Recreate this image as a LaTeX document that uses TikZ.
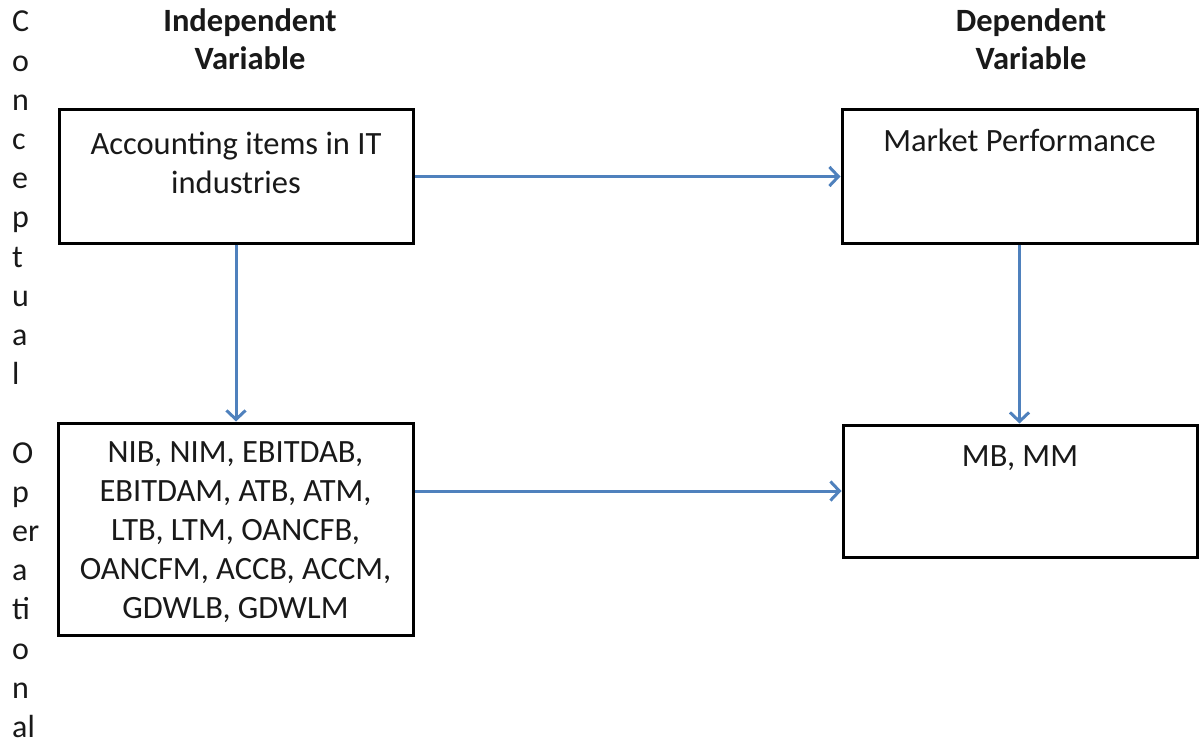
\documentclass[tikz,border=0pt]{standalone}
\usepackage{fontspec}
\setmainfont{Carlito}
\usetikzlibrary{arrows.meta,calc}
\definecolor{arrowblue}{RGB}{79,129,189}
\definecolor{txtgray}{RGB}{25,25,25}
\begin{document}
\begin{tikzpicture}[x=1pt,y=-1pt,
  box/.style={draw=black, line width=3pt, rectangle, inner sep=0pt},
  txt/.style={text=txtgray, align=center, inner sep=0pt, anchor=north,
    font=\fontsize{32.5pt}{39pt}\selectfont},
  head/.style={txt, font=\fontsize{32.5pt}{38pt}\selectfont\bfseries},
  conn/.style={draw=arrowblue, line width=3pt,
    -{Straight Barb[length=9pt,width=19pt,line width=3pt]}}
]
\useasboundingbox (0,0) rectangle (1199,746);

% side label
\node[anchor=north west, align=left, inner sep=0pt, text=txtgray,
  font=\fontsize{32pt}{39.2pt}\selectfont] (side) at (12,11)
  {C\\o\\n\\c\\e\\p\\t\\u\\a\\l\\[39.2pt]O\\p\\er\\a\\ti\\o\\n\\al};

% headers
\node[head] (hind) at (250,8) {Independent\\Variable};
\node[head] (hdep) at (1031,8) {Dependent\\Variable};

% boxes
\node[box, minimum width=354pt, minimum height=133pt] (a) at (236,176.5) {};
\node[box, minimum width=355pt, minimum height=133pt] (b) at (1019.5,176.5) {};
\node[box, minimum width=355pt, minimum height=212pt] (c) at (235.5,529) {};
\node[box, minimum width=354pt, minimum height=132pt] (d) at (1020,491) {};

% box texts
\node[txt] (ta) at ($(a.north)+(0,23)$) {Accounting items in IT\\industries};
\node[txt] (tb) at ($(b.north)+(0,20)$) {Market Performance};
\node[txt] (tc) at ($(c.north)+(0,20)$) {NIB, NIM, EBITDAB,\\EBITDAM, ATB, ATM,\\LTB, LTM, OANCFB,\\OANCFM, ACCB, ACCM,\\GDWLB, GDWLM};
\node[txt] (td) at ($(d.north)+(0,22)$) {MB, MM};

% connectors
\coordinate (cd) at (d.west -| c.east);
\draw[conn] (a.east) -- (b.west);
\draw[conn] (a.south) -- (a.south |- c.north);
\draw[conn] (b.south) -- (b.south |- d.north);
\draw[conn] (cd) -- (d.west);
\end{tikzpicture}
\end{document}
